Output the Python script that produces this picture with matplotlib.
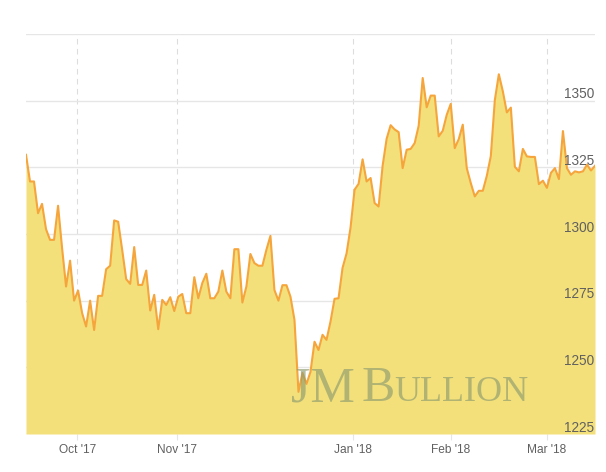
import matplotlib
matplotlib.use("Agg")
import numpy as np
import matplotlib.pyplot as plt
import matplotlib.transforms as mtransforms

# gold spot price, one value per point
prices = [
    1329.7, 1319.7, 1319.7, 1307.8, 1311.3, 1301.8, 1297.8, 1297.8, 1310.6, 1294.8,
    1280.3, 1290.0, 1275.0, 1278.8, 1270.4, 1265.3, 1275.0, 1264.0, 1276.8, 1276.8,
    1286.8, 1288.1, 1305.1, 1304.6, 1294.1, 1283.1, 1281.3, 1295.1, 1280.9, 1280.9,
    1286.3, 1271.3, 1277.2, 1264.3, 1275.3, 1273.4, 1276.3, 1271.1, 1276.5, 1277.5,
    1270.3, 1270.3, 1283.8, 1275.9, 1281.6, 1285.1, 1275.9, 1275.9, 1278.4, 1286.3,
    1278.4, 1275.9, 1294.3, 1294.3, 1274.3, 1280.3, 1292.5, 1289.1, 1288.1, 1288.1,
    1294.1, 1299.3, 1279.0, 1275.0, 1280.8, 1280.8, 1276.5, 1267.8, 1240.8, 1247.9,
    1243.8, 1248.3, 1259.6, 1256.5, 1262.2, 1260.3, 1267.2, 1275.7, 1275.9, 1287.3,
    1292.7, 1302.5, 1316.6, 1318.8, 1328.0, 1319.7, 1321.0, 1311.6, 1310.3, 1325.6,
    1335.7, 1340.8, 1339.2, 1338.2, 1324.7, 1331.6, 1331.9, 1334.1, 1340.6, 1358.5,
    1347.5, 1351.9, 1351.9, 1336.6, 1338.7, 1344.7, 1348.8, 1332.2, 1335.6, 1341.0,
    1324.7, 1319.1, 1314.1, 1316.2, 1316.2, 1321.8, 1329.2, 1350.2, 1359.9, 1353.5,
    1345.6, 1347.4, 1325.2, 1323.5, 1331.9, 1329.1, 1328.9, 1328.9, 1318.7, 1320.0,
    1317.3, 1322.9, 1324.7, 1320.6, 1338.6, 1324.7, 1322.2, 1323.5, 1323.1, 1323.5,
    1326.0, 1323.8, 1325.6,
]

month_labels = ["Oct '17", "Nov '17", "Jan '18", "Feb '18", "Mar '18"]
month_pos    = [12.8, 37.8, 81.6, 106.0, 130.0]

price_ticks  = [1225, 1250, 1275, 1300, 1325, 1350, 1375]
price_labels = ["1225", "1250", "1275", "1300", "1325", "1350", ""]

LINE  = "#F5A53B"
FILL  = "#F3E07B"
GRID  = "#E6E6E6"
LABEL = "#606060"

plt.rcParams["font.family"] = ["Liberation Sans", "DejaVu Sans"]

fig = plt.figure(figsize=(6.06, 4.72), dpi=100)
ax = fig.add_axes([26 / 606, 38 / 472, 569 / 606, 400 / 472])

x = np.arange(len(prices))
ax.fill_between(x, prices, price_ticks[0], color=FILL, lw=0, zorder=2)
ax.plot(x, prices, color=LINE, lw=1.5, zorder=3)

ax.set_xlim(0, len(prices) - 1)
ax.set_ylim(price_ticks[0], price_ticks[-1])

for s in ax.spines.values():
    s.set_visible(False)

ax.set_axisbelow(True)
ax.set_yticks(price_ticks)
ax.set_yticklabels([])
ax.tick_params(axis="y", length=0)
ax.grid(axis="y", color=GRID, lw=1, zorder=0)

ax.set_xticks(month_pos)
ax.set_xticklabels(month_labels)
ax.tick_params(axis="x", length=4.3, width=0.8, color=GRID, pad=3,
               labelsize=8.6, labelcolor=LABEL)
ax.grid(axis="x", color="#DDDDDD", lw=0.8, ls=(0, (5, 4)), zorder=0)

# y labels sit inside the plot, right aligned, just above their gridline
lift = mtransforms.ScaledTranslation(-1 / 100, 2.5 / 100, fig.dpi_scale_trans)
ytrans = ax.get_yaxis_transform() + lift
for v, lab in zip(price_ticks, price_labels):
    ax.text(1.0, v, lab, transform=ytrans, ha="right", va="baseline",
            fontsize=9.8, color=LABEL, zorder=5)

# watermark
wm = dict(family=["Liberation Serif", "DejaVu Serif"], color="#8E9C6E",
          alpha=0.65, va="baseline", zorder=6)
base = (472 - 401) / 472
fig.text(291 / 606, base, "JM", fontsize=36, **wm)
fig.text(362 / 606, base, "B", fontsize=36, **wm)
fig.text(394 / 606, base, "ULLION", fontsize=26, **wm)

fig.savefig("out.png", dpi=100)
